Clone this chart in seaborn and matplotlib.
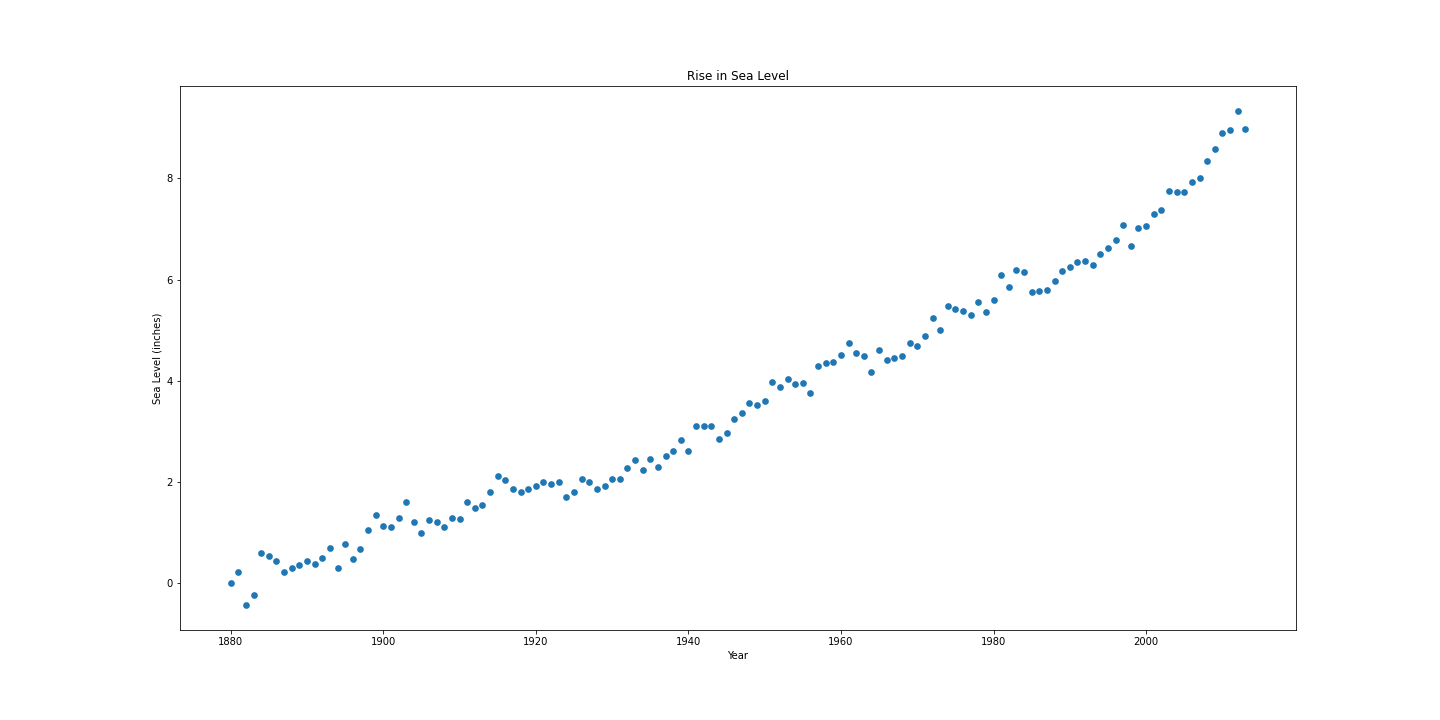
import matplotlib
matplotlib.use("Agg")
import matplotlib.pyplot as plt
import seaborn as sns
import pandas as pd

years = list(range(1880, 2014))
sea_level = [
    0.00, 0.22, -0.44, -0.23, 0.59, 0.53, 0.44, 0.22, 0.30, 0.36,
    0.44, 0.37, 0.50, 0.69, 0.30, 0.77, 0.47, 0.67, 1.04, 1.34,
    1.13, 1.11, 1.29, 1.61, 1.20, 0.98, 1.25, 1.20, 1.10, 1.28,
    1.26, 1.60, 1.48, 1.55, 1.80, 2.11, 2.03, 1.85, 1.79, 1.85,
    1.91, 1.99, 1.95, 2.00, 1.71, 1.79, 2.05, 2.00, 1.85, 1.91,
    2.06, 2.05, 2.27, 2.44, 2.23, 2.45, 2.30, 2.52, 2.62, 2.83,
    2.62, 3.10, 3.10, 3.10, 2.85, 2.96, 3.25, 3.37, 3.56, 3.51,
    3.60, 3.97, 3.87, 4.04, 3.93, 3.96, 3.76, 4.29, 4.35, 4.36,
    4.50, 4.75, 4.54, 4.48, 4.17, 4.61, 4.40, 4.45, 4.48, 4.75,
    4.68, 4.88, 5.24, 5.00, 5.47, 5.41, 5.37, 5.30, 5.56, 5.36,
    5.60, 6.09, 5.86, 6.19, 6.15, 5.75, 5.77, 5.80, 5.98, 6.16,
    6.24, 6.35, 6.36, 6.29, 6.50, 6.62, 6.79, 7.07, 6.67, 7.01,
    7.06, 7.29, 7.38, 7.76, 7.74, 7.74, 7.92, 8.00, 8.35, 8.59,
    8.90, 8.96, 9.33, 8.98,
]

df = pd.DataFrame({"Year": years, "Sea Level (inches)": sea_level})

fig, ax = plt.subplots(figsize=(20, 10), dpi=72)
fig.subplots_adjust(left=0.125, right=0.9, top=0.88, bottom=0.125)
sns.scatterplot(data=df, x="Year", y="Sea Level (inches)", ax=ax,
                color="#1f77b4", s=45, linewidth=0)
ax.set_title("Rise in Sea Level")
ax.set_xlabel("Year")
ax.set_ylabel("Sea Level (inches)")
fig.savefig("out.png", dpi=72)
